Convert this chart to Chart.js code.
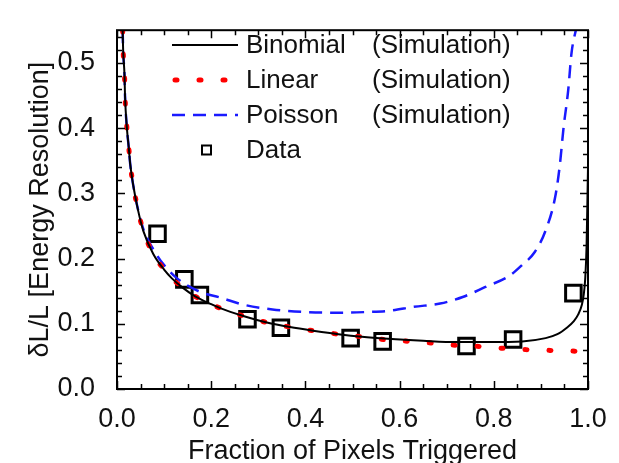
<!DOCTYPE html>
<html>
<head>
<meta charset="utf-8">
<script src="https://cdn.jsdelivr.net/npm/chart.js@4.4.0/dist/chart.umd.min.js"></script>
<style>
html, body { margin: 0; padding: 0; background: #fff; }
</style>
</head>
<body>
<canvas id="myChart" width="619" height="463"></canvas>
<script>
// values: fraction of pixels triggered vs dL/L
const binomialX = [0.012, 0.013, 0.016, 0.017, 0.021, 0.025, 0.028, 0.035, 0.045, 0.056, 0.077, 0.1, 0.116, 0.14, 0.166, 0.2, 0.219, 0.268, 0.318, 0.367, 0.42, 0.47, 0.52, 0.575, 0.65, 0.72, 0.79, 0.86, 0.91, 0.935, 0.955, 0.97, 0.979, 0.987, 0.991, 0.994, 0.997, 0.999, 1.0];
const binomialY = [0.55, 0.52, 0.48, 0.45, 0.40, 0.37, 0.345, 0.31, 0.273, 0.242, 0.207, 0.183, 0.17, 0.155, 0.142, 0.13, 0.124, 0.112, 0.102, 0.095, 0.089, 0.084, 0.080, 0.077, 0.074, 0.072, 0.072, 0.073, 0.078, 0.084, 0.094, 0.104, 0.114, 0.129, 0.145, 0.168, 0.22, 0.30, 0.34];

const linearX = [0.012, 0.013, 0.016, 0.017, 0.021, 0.025, 0.028, 0.035, 0.045, 0.056, 0.077, 0.1, 0.116, 0.14, 0.166, 0.2, 0.219, 0.268, 0.318, 0.367, 0.42, 0.47, 0.522, 0.575, 0.622, 0.675, 0.721, 0.774, 0.827, 0.88, 0.93, 0.979, 1.0];
const linearY = [0.55, 0.52, 0.48, 0.45, 0.40, 0.37, 0.345, 0.31, 0.273, 0.242, 0.207, 0.183, 0.17, 0.155, 0.142, 0.13, 0.124, 0.112, 0.102, 0.095, 0.089, 0.084, 0.080, 0.075, 0.073, 0.070, 0.067, 0.065, 0.062, 0.060, 0.059, 0.058, 0.058];

const poissonX = [0.012, 0.013, 0.016, 0.017, 0.021, 0.025, 0.028, 0.035, 0.045, 0.056, 0.084, 0.1, 0.127, 0.176, 0.22, 0.27, 0.33, 0.40, 0.48, 0.53, 0.58, 0.63, 0.686, 0.734, 0.781, 0.834, 0.86, 0.887, 0.91, 0.93, 0.94, 0.948, 0.958, 0.965, 0.976];
const poissonY = [0.55, 0.52, 0.48, 0.45, 0.40, 0.37, 0.345, 0.31, 0.274, 0.245, 0.206, 0.19, 0.170, 0.149, 0.140, 0.129, 0.122, 0.118, 0.117, 0.118, 0.120, 0.126, 0.131, 0.141, 0.156, 0.174, 0.19, 0.21, 0.243, 0.293, 0.342, 0.40, 0.458, 0.515, 0.556];

const dataX = [0.086, 0.143, 0.176, 0.277, 0.348, 0.496, 0.564, 0.742, 0.841, 0.969];
const dataY = [0.238, 0.168, 0.144, 0.107, 0.094, 0.078, 0.073, 0.066, 0.076, 0.147];

const seriesNames = ['Binomial', 'Linear', 'Poisson', 'Data'];
const seriesNotes = ['(Simulation)', '(Simulation)', '(Simulation)', ''];

const FONT = 'Liberation Sans, Arial, sans-serif';

function pts(xs, ys) {
    return xs.map((x, i) => ({ x: x, y: ys[i] }));
}

// box frame with inward ticks on all four sides
const framePlugin = {
    id: 'frame',
    afterDraw(chart) {
        const ctx = chart.ctx;
        const a = chart.chartArea;
        const xs = chart.scales.x, ys = chart.scales.y;
        ctx.save();
        ctx.strokeStyle = '#000';
        ctx.lineWidth = 1.5;
        ctx.beginPath();
        for (let i = 0; i <= 20; i++) {
            const px = Math.round(xs.getPixelForValue(i * 0.05)) + 0.5;
            const len = i % 4 === 0 ? 8 : 5;
            ctx.moveTo(px, a.bottom); ctx.lineTo(px, a.bottom - len);
            ctx.moveTo(px, a.top); ctx.lineTo(px, a.top + len);
        }
        for (let i = 0; i <= 27; i++) {
            const py = Math.round(ys.getPixelForValue(i * 0.02)) + 0.5;
            const len = i % 5 === 0 ? 8 : 5;
            ctx.moveTo(a.left, py); ctx.lineTo(a.left + len, py);
            ctx.moveTo(a.right, py); ctx.lineTo(a.right - len, py);
        }
        ctx.stroke();
        ctx.lineWidth = 2;
        ctx.strokeRect(a.left, a.top, a.right - a.left, a.bottom - a.top);

        // axis titles
        ctx.fillStyle = '#111';
        ctx.font = '27px ' + FONT;
        ctx.textAlign = 'center';
        ctx.textBaseline = 'alphabetic';
        ctx.fillText('Fraction of Pixels Triggered', (a.left + a.right) / 2, 459);
        ctx.save();
        ctx.translate(48, (a.top + a.bottom) / 2);
        ctx.rotate(-Math.PI / 2);
        ctx.fillText('δL/L [Energy Resolution]', 0, 0);
        ctx.restore();

        // legend
        ctx.font = '26px ' + FONT;
        ctx.textAlign = 'left';
        ctx.textBaseline = 'middle';
        chart.data.datasets.forEach((ds, i) => {
            const cy = 45 + i * 35;
            if (ds.showLine === false) {
                ctx.lineWidth = 2;
                ctx.strokeStyle = '#000';
                ctx.setLineDash([]);
                ctx.strokeRect(202, cy - 4.5, 9, 9);
            } else {
                ctx.strokeStyle = ds.borderColor;
                ctx.lineWidth = ds.borderWidth;
                ctx.lineCap = ds.borderCapStyle || 'butt';
                ctx.setLineDash(ds.borderDash || []);
                ctx.beginPath();
                ctx.moveTo(ds.borderCapStyle === 'round' ? 175 : 172, cy);
                ctx.lineTo(238, cy);
                ctx.stroke();
                ctx.setLineDash([]);
                ctx.lineCap = 'butt';
            }
            ctx.fillStyle = '#111';
            ctx.fillText(seriesNames[i], 246, cy + 1);
            if (seriesNotes[i]) ctx.fillText(seriesNotes[i], 372, cy + 1);
        });
        ctx.restore();
    }
};

const ctx = document.getElementById('myChart').getContext('2d');
const chart = new Chart(ctx, {
    type: 'line',
    data: {
        datasets: [{
            label: seriesNames[0],
            data: pts(binomialX, binomialY),
            borderColor: '#000',
            borderWidth: 2,
            pointRadius: 0,
            cubicInterpolationMode: 'monotone'
        }, {
            label: seriesNames[1],
            data: pts(linearX, linearY),
            borderColor: '#ff0000',
            borderWidth: 5,
            borderDash: [2, 22],
            borderCapStyle: 'round',
            pointRadius: 0,
            cubicInterpolationMode: 'monotone'
        }, {
            label: seriesNames[2],
            data: pts(poissonX, poissonY),
            borderColor: '#1a1aff',
            borderWidth: 2.5,
            borderDash: [13, 8],
            pointRadius: 0,
            cubicInterpolationMode: 'monotone'
        }, {
            label: seriesNames[3],
            data: pts(dataX, dataY),
            showLine: false,
            pointStyle: 'rect',
            pointRadius: 11,
            pointBorderWidth: 3,
            pointBorderColor: '#000',
            pointBackgroundColor: 'rgba(0,0,0,0)',
            borderColor: '#000'
        }]
    },
    options: {
        responsive: false,
        animation: false,
        devicePixelRatio: 1,
        layout: { padding: { top: 10, right: 31, left: 0, bottom: 0 } },
        plugins: {
            legend: { display: false },
            tooltip: { enabled: false }
        },
        scales: {
            x: {
                type: 'linear',
                min: 0,
                max: 1.0,
                grid: { display: false },
                border: { display: false },
                afterFit: s => { s.height = 74; },
                ticks: {
                    stepSize: 0.2,
                    padding: 6,
                    color: '#111',
                    font: { family: FONT, size: 27 },
                    maxRotation: 0,
                    callback: v => v.toFixed(1)
                }
            },
            y: {
                min: 0,
                max: 0.55,
                grid: { display: false },
                border: { display: false },
                afterFit: s => { s.width = 117; },
                afterBuildTicks: s => {
                    s.ticks = [0, 0.1, 0.2, 0.3, 0.4, 0.5].map(v => ({ value: v }));
                },
                ticks: {
                    padding: 14,
                    color: '#111',
                    font: { family: FONT, size: 27 },
                    callback: v => v.toFixed(1)
                }
            }
        }
    },
    plugins: [framePlugin]
});
</script>
</body>
</html>
